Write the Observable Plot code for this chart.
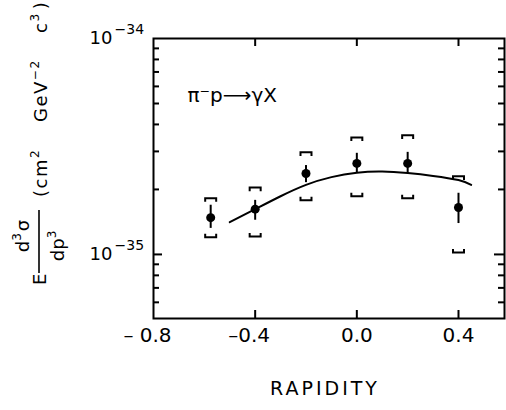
<!DOCTYPE html>
<html>
<head>
<meta charset="utf-8">
<script src="https://cdn.jsdelivr.net/npm/d3@7"></script>
<script src="https://cdn.jsdelivr.net/npm/@observablehq/plot@0.6"></script>
<style>
  html, body { margin: 0; padding: 0; background: white; }
</style>
</head>
<body>
<div id="chart"></div>
<script>
// ---- data (cross sections in units of 1e-35 cm^2 GeV^-2 c^3) ----
const rapidity   = [-0.575, -0.4, -0.2, 0.0, 0.2, 0.4];
const xsec       = [1.48, 1.62, 2.37, 2.64, 2.64, 1.65];
const statLow    = [1.32, 1.44, 2.15, 2.37, 2.37, 1.39];
const statHigh   = [1.69, 1.78, 2.58, 2.94, 2.97, 1.92];
const systLow    = [1.20, 1.21, 1.78, 1.86, 1.82, 1.02];
const systHigh   = [1.82, 2.04, 2.97, 3.48, 3.56, 2.30];

const curveRapidity = [-0.5, -0.4, -0.3, -0.2, -0.1, 0.0, 0.1, 0.2, 0.3, 0.4, 0.45];
const curveXsec     = [1.41, 1.62, 1.86, 2.10, 2.28, 2.39, 2.42, 2.38, 2.31, 2.21, 2.10];

const unit = 1e-35;
const xTickValues = [-0.4, 0.0, 0.4];
const xLabelNeg = [-0.8, -0.4];
const xLabelPos = [0.0, 0.4];
const yMinorMant = [6e-36, 7e-36, 8e-36, 9e-36, 2e-35, 3e-35, 4e-35, 5e-35, 6e-35, 7e-35, 8e-35, 9e-35];
const yMajorInner = [1e-35];
const reactionLabel = "π⁻p⟶γX";
const xTitle = "RAPIDITY";

const points = rapidity.map((x, i) => ({
  x, y: xsec[i] * unit, lo: statLow[i] * unit, hi: statHigh[i] * unit,
  slo: systLow[i] * unit, shi: systHigh[i] * unit
}));
const curve = curveRapidity.map((x, i) => ({x, y: curveXsec[i] * unit}));
const yLabels = [{v: 1e-34, e: "−34"}, {v: 1e-35, e: "−35"}];

const bracketTop = {
  draw(ctx, size) {
    const r = Math.sqrt(size / Math.PI);
    ctx.moveTo(-r, r * 0.65); ctx.lineTo(-r, 0); ctx.lineTo(r, 0); ctx.lineTo(r, r * 0.65);
  }
};
const bracketBottom = {
  draw(ctx, size) {
    const r = Math.sqrt(size / Math.PI);
    ctx.moveTo(-r, -r * 0.65); ctx.lineTo(-r, 0); ctx.lineTo(r, 0); ctx.lineTo(r, -r * 0.65);
  }
};

const W = 506, H = 410, ML = 153, MR = 2, MT = 38, MB = 92;
const innerW = W - ML - MR, innerH = H - MT - MB;
const FONT = "DejaVu Sans";
const fmt = d => (d < 0 ? (d === -0.8 ? "– " : "–") : "") + Math.abs(d).toFixed(1);
const tickStyle = {stroke: "black", strokeWidth: 2};

const plot = Plot.plot({
  width: W, height: H,
  marginLeft: ML, marginRight: MR, marginTop: MT, marginBottom: MB,
  style: {fontFamily: FONT, background: "white", color: "black", overflow: "visible"},
  x: {domain: [-0.8, 0.581]},
  y: {type: "log", domain: [5.05e-36, 1e-34], axis: null},
  marks: [
    Plot.frame({stroke: "black", strokeWidth: 2}),
    // inward ticks
    Plot.tickX(xTickValues, {x: d => d, insetTop: innerH - 8, ...tickStyle}),
    Plot.tickX(xTickValues, {x: d => d, insetBottom: innerH - 8, ...tickStyle}),
    Plot.tickY(yMinorMant, {y: d => d, insetRight: innerW - 6, ...tickStyle}),
    Plot.tickY(yMinorMant, {y: d => d, insetLeft: innerW - 6, ...tickStyle}),
    Plot.tickY(yMajorInner, {y: d => d, insetRight: innerW - 9, ...tickStyle}),
    Plot.tickY(yMajorInner, {y: d => d, insetLeft: innerW - 10, ...tickStyle}),
    // x tick labels
    Plot.axisX(xLabelNeg, {anchor: "bottom", tickSize: 0, tickPadding: 9, tickFormat: fmt, fontSize: 20, label: null, dx: -6}),
    Plot.axisX(xLabelPos, {anchor: "bottom", tickSize: 0, tickPadding: 9, tickFormat: fmt, fontSize: 20, label: null}),
    // y tick labels 10^n
    Plot.text(yLabels, {y: "v", frameAnchor: "left", text: () => "10", dx: -41, textAnchor: "end", lineAnchor: "middle", fontSize: 18}),
    Plot.text(yLabels, {y: "v", frameAnchor: "left", text: "e", dx: -39, dy: -9, textAnchor: "start", lineAnchor: "middle", fontSize: 14}),
    // x title
    Plot.text([xTitle], {frameAnchor: "bottom", text: d => d, dy: 70, dx: -4, lineAnchor: "middle", fontSize: 19}),
    // reaction label
    Plot.text([reactionLabel], {frameAnchor: "top-left", text: d => d, dx: 34, dy: 57, textAnchor: "start", lineAnchor: "middle", fontSize: 20}),
    // theory curve
    Plot.line(curve, {x: "x", y: "y", curve: "natural", stroke: "black", strokeWidth: 2}),
    // systematic brackets
    Plot.dot(points, {x: "x", y: "shi", symbol: bracketTop, r: 5.5, stroke: "black", fill: "none", strokeWidth: 2}),
    Plot.dot(points, {x: "x", y: "slo", symbol: bracketBottom, r: 5.5, stroke: "black", fill: "none", strokeWidth: 2}),
    // statistical error bars
    Plot.ruleX(points, {x: "x", y1: "lo", y2: "hi", stroke: "black", strokeWidth: 2}),
    Plot.dot(points, {x: "x", y: "y", r: 4.5, fill: "black", stroke: "none"})
  ]
});

document.getElementById("chart").appendChild(plot);

const svg = d3.select(plot);
svg.selectAll("text").filter(function() { return this.textContent === xTitle; })
  .attr("letter-spacing", 3);

// rotated y-axis label: E d³σ/dp³ (cm² GeV⁻² c³)
const g = svg.append("g")
  .attr("transform", "translate(0,285) rotate(-90)")
  .attr("font-family", FONT)
  .attr("font-size", 18)
  .attr("fill", "black");

function supText(parent, u, v, parts, anchor) {
  const t = parent.append("text").attr("x", u).attr("y", v).attr("text-anchor", anchor || "start");
  parts.forEach(p => {
    if (p.sup) {
      t.append("tspan").attr("font-size", 12).attr("dy", -8).text(p.sup);
      t.append("tspan").attr("dy", 8).text("\u200A");
    } else {
      t.append("tspan").text(p.t);
    }
  });
  return t;
}
supText(g, 0, 46, [{t: "E"}]);
supText(g, 49, 29, [{t: "d"}, {sup: "3"}, {t: "σ"}], "middle");
g.append("line").attr("x1", 12).attr("x2", 75).attr("y1", 39).attr("y2", 39)
  .attr("stroke", "black").attr("stroke-width", 1.6);
supText(g, 40, 64, [{t: "dp"}, {sup: "3"}], "middle");
supText(g, 88, 47, [{t: "(cm"}, {sup: "2"}]).attr("letter-spacing", 1.5);
supText(g, 163, 47, [{t: "GeV"}, {sup: "−2"}]).attr("letter-spacing", 1.5);
supText(g, 252, 47, [{t: "c"}, {sup: "3"}, {t: ")"}]).attr("letter-spacing", 1.5);
</script>
</body>
</html>
